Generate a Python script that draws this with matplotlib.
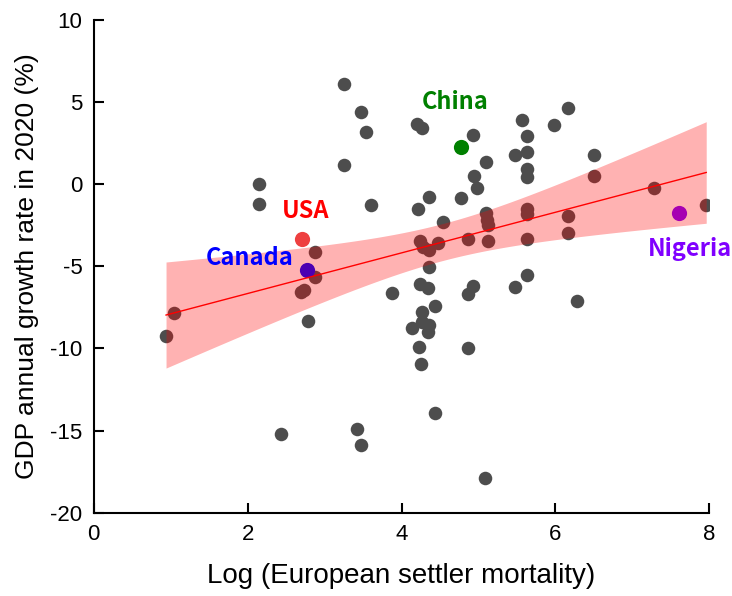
import numpy as np
import matplotlib
matplotlib.use('Agg')
import matplotlib.pyplot as plt

# 散布図のデータ (x: log settler mortality, y: GDP growth 2020)
x_other = [0.94, 1.05, 2.15, 2.15, 2.43, 2.70, 2.73, 2.79, 2.87, 2.87,
           3.25, 3.25, 3.42, 3.47, 3.47, 3.54, 3.61, 3.88, 4.20, 4.27,
           4.22, 4.24, 4.28, 4.36, 4.36, 4.36, 4.24, 4.35, 4.26, 4.13,
           4.26, 4.36, 4.35, 4.23, 4.25, 4.43, 4.43, 4.48, 4.54, 4.77,
           4.87, 4.86, 4.87, 4.93, 4.93, 4.94, 4.98, 5.09, 5.10, 5.10,
           5.11, 5.13, 5.13, 5.47, 5.47, 5.57, 5.63, 5.63, 5.63, 5.63,
           5.63, 5.63, 5.63, 5.63, 5.98, 6.17, 6.17, 6.17, 6.28, 6.50,
           6.50, 7.28, 7.96]
y_other = [-9.27, -7.86, 0.0, -1.2, -15.2, -6.55, -6.45, -8.35, -4.1, -5.65,
           6.1, 1.2, -14.9, 4.38, -15.9, 3.2, -1.28, -6.6, 3.65, 3.45,
           -1.5, -3.45, -3.8, -4.0, -0.8, -5.05, -6.05, -6.3, -7.8, -8.73,
           -8.4, -8.6, -9.0, -9.9, -10.96, -7.4, -13.96, -3.57, -2.3, -0.85,
           -3.3, -10.0, -6.7, -6.2, 2.99, 0.5, -0.23, -17.9, 1.35, -1.75,
           -2.2, -2.5, -3.46, 1.77, -6.25, 3.9, 2.95, 2.0, 0.96, 0.45,
           -1.5, -1.8, -3.3, -5.55, 3.62, 4.68, -1.9, -2.95, -7.1, 1.8,
           0.52, -0.21, -1.24]

# 注目する国
countries = ['USA', 'Canada', 'China', 'Nigeria']
x_hl = [2.71, 2.77, 4.77, 7.60]
y_hl = [-3.36, -5.22, 2.28, -1.75]
pt_colors = ['#EE4040', '#0000FF', '#008000', '#8000FF']
txt_colors = ['#FF0000', '#0000FF', '#008000', '#8000FF']
txt_pos = [(2.75, -1.6), (2.02, -4.5), (4.7, 5.0), (7.75, -3.95)]

plt.rcParams['font.family'] = ['Liberation Sans', 'DejaVu Sans']
plt.rcParams['axes.unicode_minus'] = False

fig = plt.figure(figsize=(7.32, 5.96), dpi=100)
ax = fig.add_axes([0.128, 0.140, 0.841, 0.826])

ax.scatter(x_other, y_other, s=95, color='#4D4D4D', zorder=2, linewidths=0)
for xv, yv, c in zip(x_hl, y_hl, pt_colors):
    ax.scatter(xv, yv, s=120, color=c, zorder=2, linewidths=0)

# 回帰直線と95%信頼区間
xa = np.array(x_other + x_hl)
ya = np.array(y_other + y_hl)
n = len(xa)
b, a = np.polyfit(xa, ya, 1)
res = ya - (a + b * xa)
s = np.sqrt(np.sum(res ** 2) / (n - 2))
sxx = np.sum((xa - xa.mean()) ** 2)
xs = np.linspace(xa.min(), xa.max(), 200)
yfit = a + b * xs
half = 1.99 * s * np.sqrt(1 / n + (xs - xa.mean()) ** 2 / sxx)
ax.fill_between(xs, yfit - half, yfit + half, color='red', alpha=0.3, linewidth=0, zorder=3)
ax.plot(xs, yfit, color='red', lw=1, zorder=4)

for name, (tx, ty), c in zip(countries, txt_pos, txt_colors):
    ax.text(tx, ty, name, color=c, fontsize=17, fontweight='bold',
            family=['Noto Sans CJK JP', 'DejaVu Sans'], ha='center', va='center', zorder=5)

ax.set_xlim(0, 8)
ax.set_ylim(-20, 10)
ax.set_xticks([0, 2, 4, 6, 8])
ax.set_yticks([-20, -15, -10, -5, 0, 5, 10])
ax.spines['top'].set_visible(False)
ax.spines['right'].set_visible(False)
ax.spines['left'].set_linewidth(1.5)
ax.spines['bottom'].set_linewidth(1.5)
ax.tick_params(direction='in', length=7, width=1.5, labelsize=16, pad=8)

ax.set_xlabel('Log (European settler mortality)', fontsize=20, labelpad=13)
ax.set_ylabel('GDP annual growth rate in 2020 (%)', fontsize=19, labelpad=8)

plt.savefig('out.png', dpi=100)
